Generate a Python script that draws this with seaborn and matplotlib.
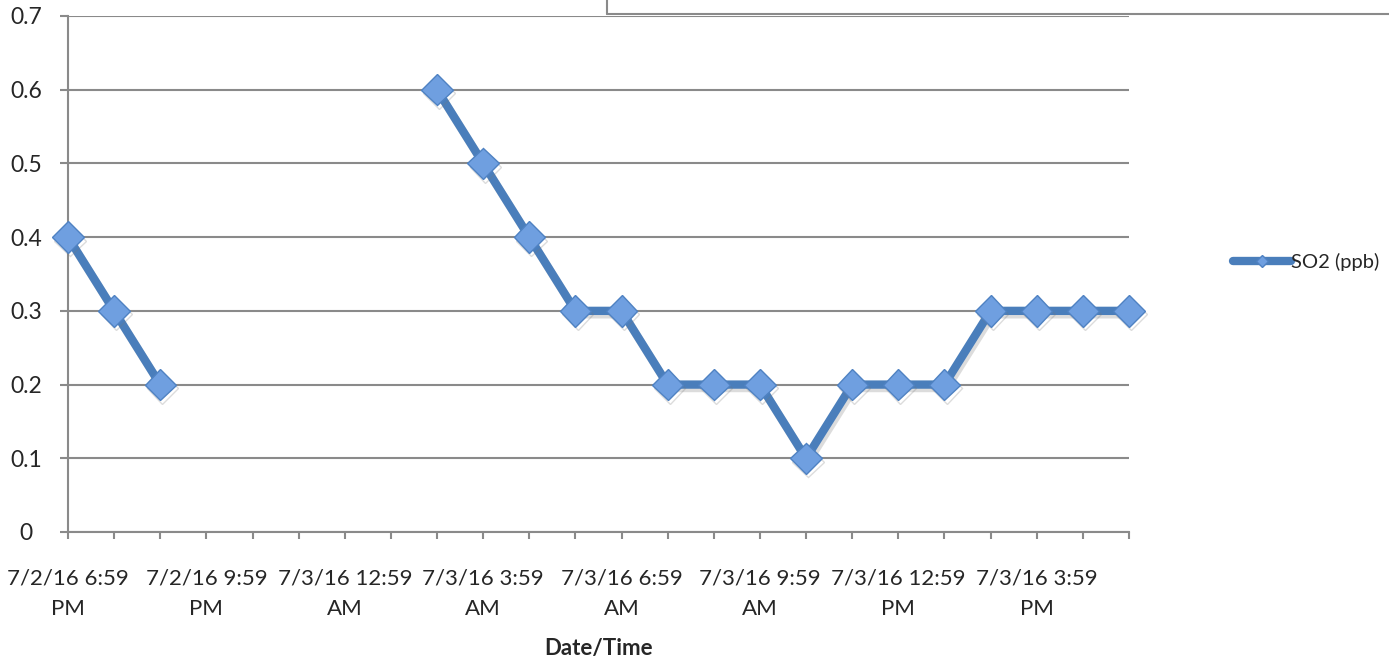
import numpy as np
import pandas as pd
import matplotlib
matplotlib.use("Agg")
import matplotlib.pyplot as plt
import matplotlib.patheffects as pe
from matplotlib.lines import Line2D
import seaborn as sns

# -----------------------------
# Data (hourly readings, gap = no data)
# -----------------------------
hours = list(range(24))
so2_ppb = [0.4, 0.3, 0.2, np.nan, np.nan, np.nan, np.nan, np.nan,
           0.6, 0.5, 0.4, 0.3, 0.3, 0.2, 0.2, 0.2,
           0.1, 0.2, 0.2, 0.2, 0.3, 0.3, 0.3, 0.3]
tick_labels = ["7/2/16 6:59\nPM", "7/2/16 9:59\nPM", "7/3/16 12:59\nAM",
               "7/3/16 3:59\nAM", "7/3/16 6:59\nAM", "7/3/16 9:59\nAM",
               "7/3/16 12:59\nPM", "7/3/16 3:59\nPM"]
y_ticks = [0, 0.1, 0.2, 0.3, 0.4, 0.5, 0.6, 0.7]
y_tick_labels = ["0", "0.1", "0.2", "0.3", "0.4", "0.5", "0.6", "0.7"]

df = pd.DataFrame({"hour": hours, "so2": so2_ppb})
# split into continuous segments so the gap stays open
df["segment"] = df["so2"].isna().cumsum()
df = df.dropna()

sns.set_style("white")
plt.rcParams["font.family"] = ["Lato", "DejaVu Sans"]

LINE_BLUE = "#4a7ebb"
MARK_FACE = "#6f9fe0"
MARK_EDGE = "#4f82c2"
GRID_GREY = "#8a8a8a"

fig = plt.figure(figsize=(13.89, 6.62), dpi=100)
ax = fig.add_axes([68 / 1389, 1 - 532 / 662, 1061 / 1389, 516 / 662])

shadow = [pe.SimpleLineShadow(offset=(1.5, -2.5), shadow_color="#777777", alpha=0.25), pe.Normal()]
sns.lineplot(data=df, x="hour", y="so2", units="segment", estimator=None,
             color=LINE_BLUE, linewidth=6, marker="D", markersize=16,
             markerfacecolor=MARK_FACE, markeredgecolor=MARK_EDGE, markeredgewidth=1.0,
             ax=ax, legend=False, path_effects=shadow, zorder=3, clip_on=False)

ax.set_xlim(0, 23)
ax.set_ylim(0, 0.7)
ax.set_yticks(y_ticks)
ax.set_yticklabels(y_tick_labels, fontsize=16.5, ha="center")
ax.set_xticks(hours)
labels = [""] * 24
for i, lab in zip(range(0, 24, 3), tick_labels):
    labels[i] = lab
ax.set_xticklabels(labels, fontsize=16, linespacing=1.65)

ax.yaxis.grid(True, color=GRID_GREY, linewidth=1.5)
ax.xaxis.grid(False)
ax.set_axisbelow(True)
for side in ["top", "right"]:
    ax.spines[side].set_visible(False)
for side in ["left", "bottom"]:
    ax.spines[side].set_color(GRID_GREY)
    ax.spines[side].set_linewidth(1.5)
ax.tick_params(axis="y", direction="out", length=6, width=1.5, color=GRID_GREY, pad=24, left=True)
ax.tick_params(axis="x", direction="out", length=5, width=1.5, color=GRID_GREY, pad=21, bottom=True)

ax.set_xlabel("Date/Time", fontsize=16, fontweight="bold", labelpad=14)
ax.set_ylabel("")

# legend outside on the right
handle = Line2D([0], [0], color=LINE_BLUE, linewidth=6, marker="D", markersize=6,
                markerfacecolor=MARK_FACE, markeredgecolor=MARK_EDGE)
fig.legend([handle], ["SO2 (ppb)"], loc="center left", bbox_to_anchor=(1233 / 1389, 1 - 262 / 662),
           frameon=False, fontsize=14.5, handlelength=2.9, handletextpad=0.0, borderaxespad=0,
           borderpad=0)

# edge of the cut-off title box at the top
box_x = 607 / 1389
box_y = 1 - 14 / 662
fig.add_artist(Line2D([box_x, 1.0], [box_y, box_y], color=GRID_GREY, linewidth=1.5))
fig.add_artist(Line2D([box_x, box_x], [box_y, 1.0], color=GRID_GREY, linewidth=1.5))

fig.savefig("out.png", dpi=100, facecolor="white")
plt.close(fig)
